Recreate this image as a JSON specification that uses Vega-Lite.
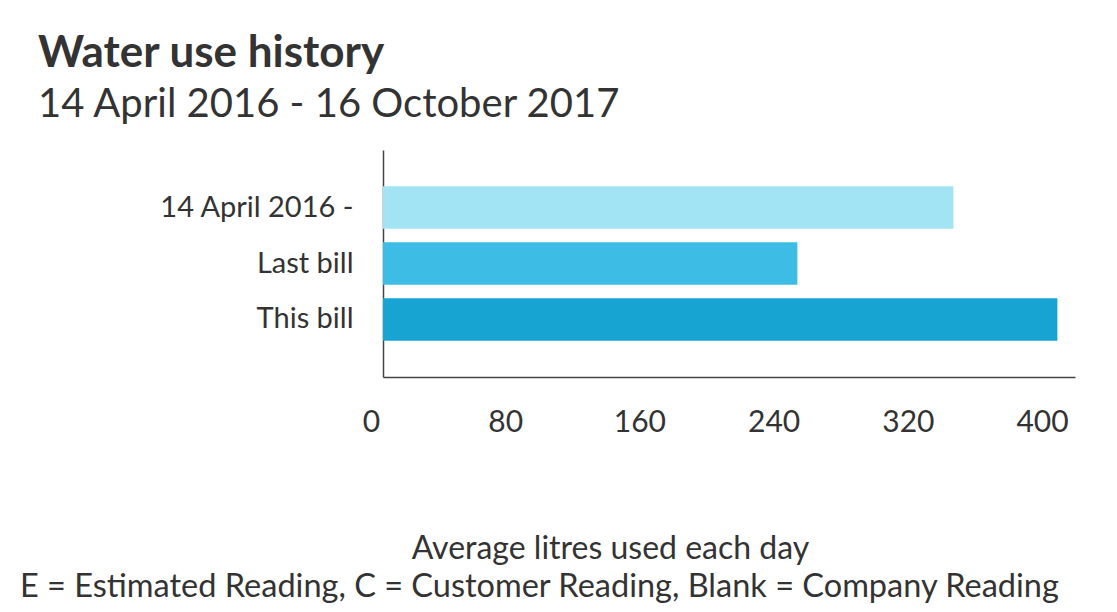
{
  "$schema": "https://vega.github.io/schema/vega-lite/v6.json",
  "background": "white",
  "padding": {"left": 20, "top": 32, "right": 5, "bottom": 5},
  "title": {
    "text": "Water use history",
    "subtitle": "14 April 2016 - 16 October 2017",
    "anchor": "start",
    "frame": "group",
    "dx": -345,
    "offset": 25,
    "font": "Lato",
    "fontSize": 44,
    "fontWeight": "bold",
    "color": "#333333",
    "subtitleFont": "Lato",
    "subtitleFontSize": 40,
    "subtitleColor": "#333333",
    "subtitlePadding": 9
  },
  "vconcat": [
    {
      "width": 692,
      "height": 227,
      "title": {
        "text": "E = Estimated Reading, C = Customer Reading, Blank = Company Reading",
        "orient": "bottom",
        "anchor": "start",
        "frame": "group",
        "dx": -363,
        "offset": 7,
        "font": "Lato",
        "fontSize": 32.5,
        "fontWeight": "normal",
        "color": "#333333"
      },
      "data": {
        "values": [
          {"period": "14 April 2016 -", "litres": 340},
          {"period": "Last bill", "litres": 247},
          {"period": "This bill", "litres": 402}
        ]
      },
      "mark": {"type": "bar"},
      "encoding": {
        "y": {
          "field": "period",
          "type": "nominal",
          "sort": null,
          "scale": {"paddingInner": 0.24, "paddingOuter": 0.65},
          "axis": {
            "title": null,
            "ticks": false,
            "tickSize": 0,
            "labelPadding": 30,
            "labelLimit": 400,
            "labelFont": "Lato",
            "labelFontSize": 29,
            "labelColor": "#333333",
            "domainColor": "#444444",
            "domainWidth": 1.5,
            "grid": false
          }
        },
        "x": {
          "field": "litres",
          "type": "quantitative",
          "scale": {"domain": [0, 412.5], "nice": false},
          "axis": {
            "title": "Average litres used each day",
            "values": [0, 80, 160, 240, 320, 400],
            "ticks": false,
            "tickSize": 0,
            "grid": false,
            "labelPadding": 30,
            "labelOffset": -12,
            "labelFont": "Lato",
            "labelFontSize": 30,
            "labelColor": "#333333",
            "labelFlush": false,
            "domainColor": "#444444",
            "domainWidth": 1.5,
            "titleFont": "Lato",
            "titleFontSize": 32,
            "titleFontWeight": "normal",
            "titleColor": "#333333",
            "titleX": 227,
            "titleY": 181,
            "titleAlign": "center",
            "titleBaseline": "alphabetic"
          }
        },
        "color": {
          "field": "period",
          "type": "nominal",
          "sort": null,
          "scale": {
            "domain": ["14 April 2016 -", "Last bill", "This bill"],
            "range": ["#a2e4f4", "#3dbde6", "#17a4d3"]
          },
          "legend": null
        }
      }
    }
  ],
  "config": {"view": {"stroke": null}}
}
